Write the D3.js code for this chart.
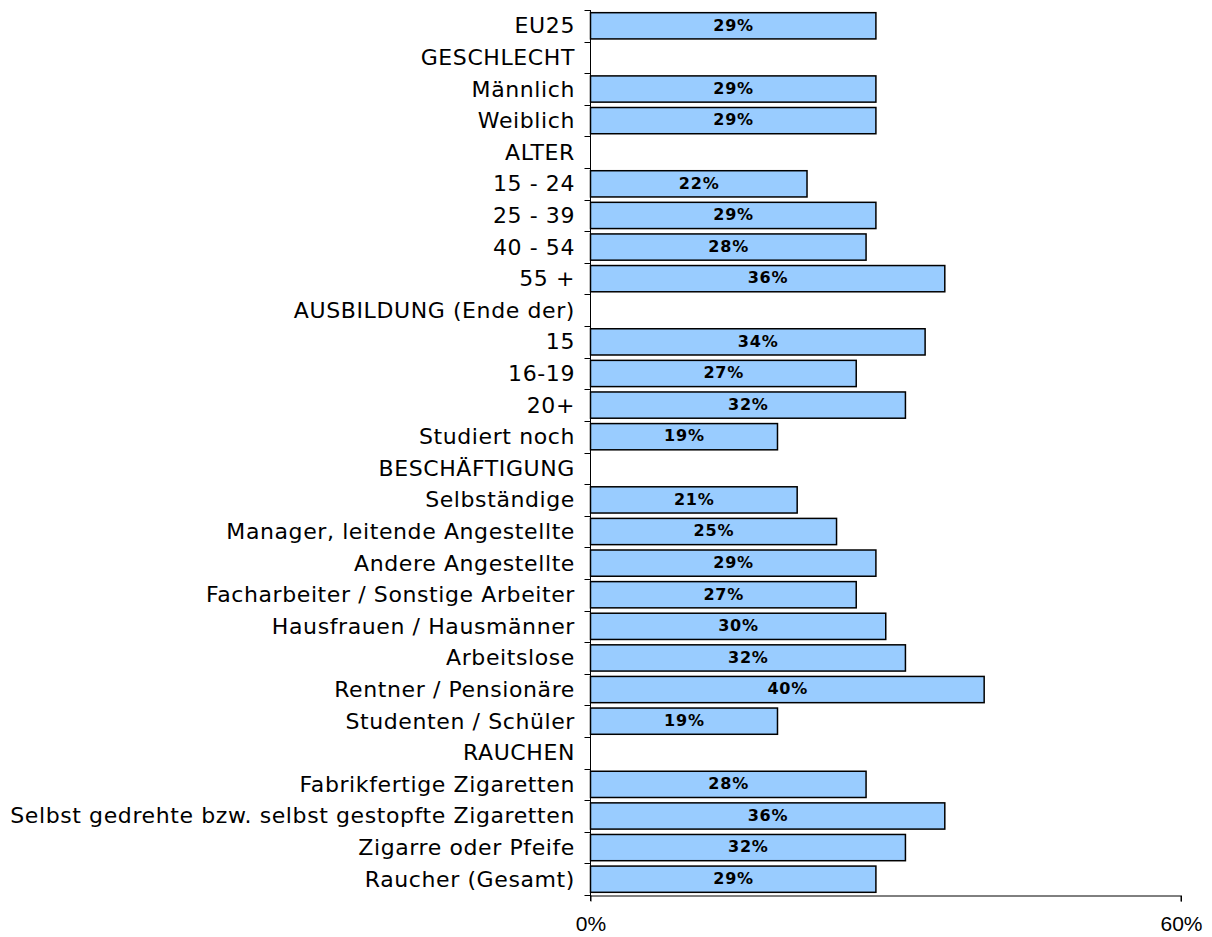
<!DOCTYPE html>
<html><head><meta charset="utf-8">
<script src="https://cdn.jsdelivr.net/npm/d3@7"></script>
<style>body{margin:0;background:#fff}svg{display:block}</style>
</head><body>
<svg id="c" width="1212" height="937"></svg>
<script>
const categories = ["EU25","GESCHLECHT","Männlich","Weiblich","ALTER","15 - 24","25 - 39","40 - 54","55 +","AUSBILDUNG (Ende der)","15","16-19","20+","Studiert noch","BESCHÄFTIGUNG","Selbständige","Manager, leitende Angestellte","Andere Angestellte","Facharbeiter / Sonstige Arbeiter","Hausfrauen / Hausmänner","Arbeitslose","Rentner / Pensionäre","Studenten / Schüler","RAUCHEN ","Fabrikfertige Zigaretten","Selbst gedrehte bzw. selbst gestopfte Zigaretten","Zigarre oder Pfeife","Raucher (Gesamt)"];
const values = [29,null,29,29,null,22,29,28,36,null,34,27,32,19,null,21,25,29,27,30,32,40,19,null,28,36,32,29];
const tickValues = [0,60];
const tickLabels = ["0%","60%"];

const svg = d3.select("#c");
const pLeft = 590.5, pRight = 1181, pTop = 10, pBottom = 895;
const x = d3.scaleLinear().domain([0,60]).range([pLeft,pRight]);
const y = d3.scaleBand().domain(categories).range([pTop,pBottom]).paddingInner(0.17).paddingOuter(0.085);

const data = categories.map((c,i)=>({c,v:values[i]})).filter(d=>d.v!==null);

svg.selectAll("rect.bar").data(data).enter().append("rect")
  .attr("x", x(0)).attr("y", d=>y(d.c)).attr("width", d=>x(d.v)-x(0)).attr("height", y.bandwidth())
  .attr("fill","#99ccff").attr("stroke","#000").attr("stroke-width",1.5);

svg.selectAll("text.val").data(data).enter().append("text")
  .attr("x", d=>(x(0)+x(d.v))/2 + 0.4).attr("y", d=>y(d.c)+y.bandwidth()/2+4.8)
  .attr("text-anchor","middle")
  .style("font-family","'DejaVu Sans', Verdana, sans-serif").style("font-weight","bold")
  .style("font-size","16px").style("letter-spacing","0.8px").attr("fill","#000")
  .text(d=>d.v+"%");

const step = y.step();
svg.selectAll("text.cat").data(categories).enter().append("text")
  .attr("x", 575).attr("y", (d,i)=>pTop + step*(i+0.5) + 7.5)
  .attr("text-anchor","end")
  .style("font-family","'DejaVu Sans', Verdana, sans-serif").style("font-size","22px")
  .style("letter-spacing","0.6px")
  .attr("fill","#000").text(d=>d);

const g = svg.append("g").attr("stroke","#000").attr("stroke-width",1);
g.append("line").attr("x1",pLeft).attr("x2",pLeft).attr("y1",pTop).attr("y2",pBottom+6);
d3.range(categories.length+1).forEach(i=>{
  const yy = Math.round(pTop + step*i)+0.5;
  g.append("line").attr("x1",pLeft-6).attr("x2",pLeft).attr("y1",yy).attr("y2",yy);
});
const xAxis = d3.axisBottom(x).tickValues(tickValues).tickFormat((d,i)=>tickLabels[i]).tickSize(6).tickPadding(15);
const ax = svg.append("g").attr("transform",`translate(0,${pBottom+0.5})`).call(xAxis);
ax.select(".domain").attr("stroke","#000").attr("d",`M${pLeft},0.5H${pRight}V6`);
ax.selectAll(".tick line").attr("stroke","#000");
ax.selectAll(".tick text").style("font-family","'Liberation Sans', Arial, sans-serif").style("font-size","21px").attr("fill","#000");
</script>
</body></html>
